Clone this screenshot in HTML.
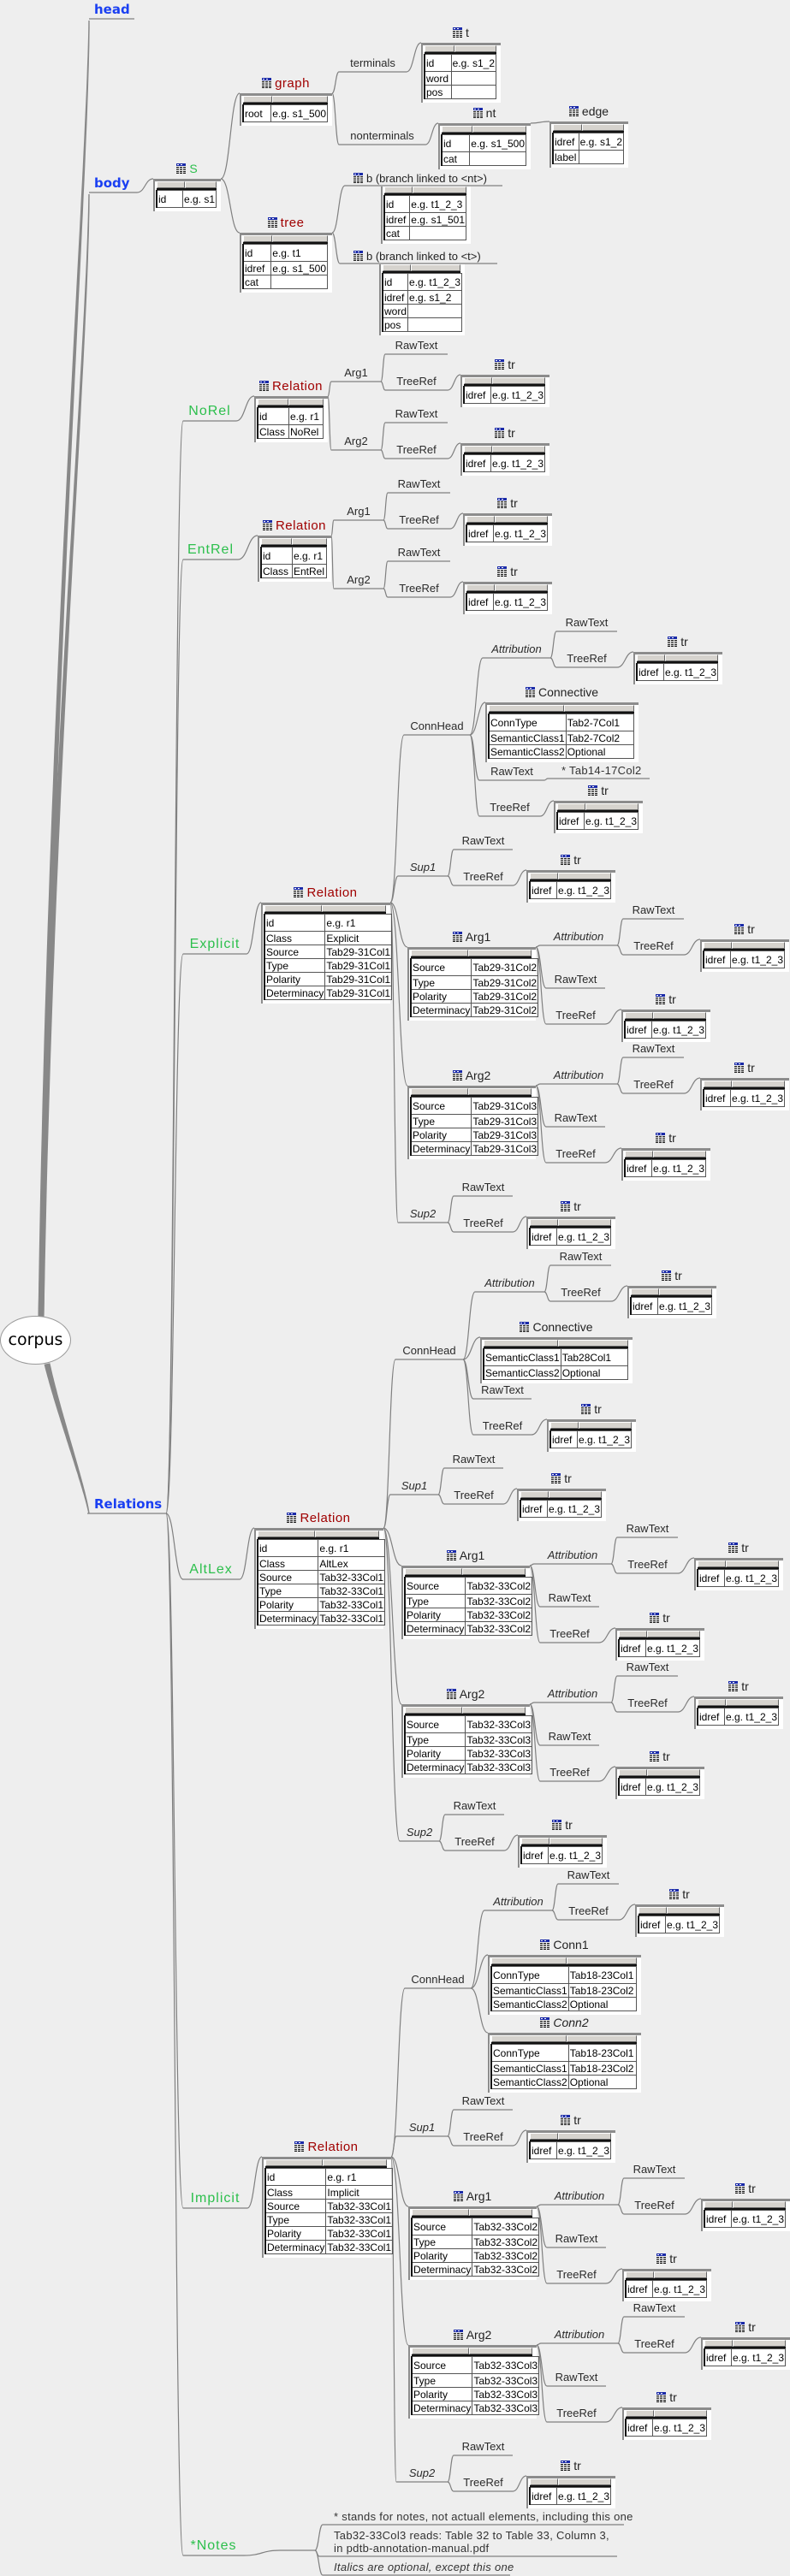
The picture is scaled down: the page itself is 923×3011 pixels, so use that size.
<!DOCTYPE html>
<html><head><meta charset="utf-8">
<style>
html,body{margin:0;padding:0}
body{width:923px;height:3011px;background:#eeeeee;position:relative;overflow:hidden;font-family:"Liberation Sans",sans-serif}
svg#s{position:absolute;left:0;top:0}
.lb{position:absolute;height:16px;line-height:16px;font-size:13px;color:#2a2a2a;text-align:center;white-space:nowrap}
.it{font-style:italic}
.gr{position:absolute;height:20px;line-height:20px;font-size:16px;color:#2cbf4c;letter-spacing:1px;text-align:center;white-space:nowrap}
.bl{position:absolute;height:19px;line-height:19px;font-size:15px;font-weight:bold;color:#1a3ff2;font-family:"DejaVu Sans",sans-serif;white-space:nowrap}
.tb{position:absolute;box-sizing:border-box;border-top:3px solid #8c8c8c;border-left:2px solid #8c8c8c;background:#fff;padding:0 5px 4px 1px}
.hd{display:flex;height:8px;border-bottom:2px solid #111;margin-left:1px}
.hd i{display:block;box-sizing:border-box;background:#d6d3ce;border:1px solid;border-color:#fff #666 #666 #fff}
.tb table{border-collapse:collapse;width:100%;border-left:2px solid #111}
.tb td{border:1px solid #555;font-size:12px;line-height:14px;padding:0 1px;white-space:nowrap;overflow:hidden;color:#000}
.tt{position:absolute;height:15px;line-height:15px;text-align:center;white-space:nowrap;font-size:14px;color:#222}
.tt svg{vertical-align:-1px;margin-right:4px}
.rd{color:#a00000;font-size:15px;letter-spacing:.5px}
.note{position:absolute;font-size:13px;color:#333;white-space:nowrap;letter-spacing:.3px}
#corpus{position:absolute;left:0;top:1538px;width:83px;height:57px;box-sizing:border-box;border:1.5px solid #999;border-radius:50%;background:#fff;display:flex;align-items:center;justify-content:center;font-family:"DejaVu Sans",sans-serif;font-size:19px;color:#000;line-height:1}
</style></head>
<body>
<svg id="s" width="923" height="3011"></svg>
<div id="corpus">corpus</div>
<script>
const S=document.getElementById('s');const B=document.body;
let sv='';
function C(x1,y1,x2,y2){const m=(x1+x2)/2;sv+=`<path d="M${x1},${y1}C${m},${y1} ${m},${y2} ${x2},${y2}" fill="none" stroke="#808080" stroke-width="1.2"/>`;}
function HL(x1,x2,y){sv+=`<line x1="${x1}" y1="${y}" x2="${x2}" y2="${y}" stroke="#808080" stroke-width="1.3"/>`;}
function add(h){B.insertAdjacentHTML('beforeend',h);}
function L(t,x1,x2,uy,cls){HL(x1,x2,uy);add(`<div class="lb ${cls||''}" style="left:${x1}px;top:${uy-18}px;width:${x2-x1}px">${t}</div>`);}
function G(t,x1,x2,uy){HL(x1,x2,uy);add(`<div class="gr" style="left:${x1}px;top:${uy-21}px;width:${x2-x1}px">${t}</div>`);}
const ICON='<svg width="11" height="12"><rect x="0" y="0" width="11" height="3" fill="#1a2aa8"/><rect x="1" y="1" width="2" height="1" fill="#fff"/><rect x="5" y="1" width="2" height="1" fill="#fff"/><g fill="#222"><rect x="0" y="4" width="3" height="1.3"/><rect x="4" y="4" width="3" height="1.3"/><rect x="8" y="4" width="3" height="1.3"/><rect x="0" y="6.5" width="3" height="1.3"/><rect x="4" y="6.5" width="3" height="1.3"/><rect x="8" y="6.5" width="3" height="1.3"/><rect x="0" y="9" width="3" height="1.3"/><rect x="4" y="9" width="3" height="1.3"/><rect x="8" y="9" width="3" height="1.3"/><rect x="0" y="11" width="3" height="1"/><rect x="4" y="11" width="3" height="1"/><rect x="8" y="11" width="3" height="1"/></g></svg>';
function T(x,top,w,c1,rows,title,tcls,noTop){
 let h=`<div class="tb" style="left:${x}px;top:${top}px;width:${w}px${noTop?';border-top:none':''}"><div class="hd"><i style="width:${c1}px"></i><i style="flex:1"></i></div><table>`;
 rows.forEach((r,i)=>{h+=`<tr style="height:${i?16:20}px"><td style="width:${c1-3}px">${r[0]}</td><td>${r[1]||''}</td></tr>`;});
 h+='</table></div>';
 if(title!==undefined&&title!==null) h+=`<div class="tt" style="left:${x}px;top:${top-19}px;width:${w}px">${ICON}<span class="${tcls||''}">${title}</span></div>`;
 add(h);}
function TR(x,top){T(x,top,104,33,[['idref','e.g. t1_2_3']],'tr');}
function attr(x1,x2,uy){L('Attribution',x1,x2,uy,'it');
 L('RawText',x2+7,x2+78,uy-31);C(x2,uy,x2+7,uy-31);
 L('TreeRef',x2+7,x2+78,uy+11);C(x2,uy,x2+7,uy+11);
 C(x2+78,uy+11,x2+97,uy-7);TR(x2+97,uy-7);}
function sup(t,x1,x2,S){L(t,x1,x2,S,'it');
 L('RawText',x2+7,x2+76,S-31);C(x2,S,x2+7,S-31);
 L('TreeRef',x2+7,x2+76,S+11);C(x2,S,x2+7,S+11);
 C(x2+76,S+11,x2+92,S-7);TR(x2+92,S-7);}
function arg(t,X,Tp,val){T(X,Tp,150,67,[['Source',val],['Type',val],['Polarity',val],['Determinacy',val]],t);
 const R=X+150;C(R,Tp,X+155,Tp-2);attr(X+155,X+245,Tp-2);
 L('RawText',X+162,X+231,Tp+48);C(R,Tp,X+162,Tp+48);
 L('TreeRef',X+162,X+231,Tp+90);C(R,Tp,X+162,Tp+90);
 C(X+231,Tp+90,X+250,Tp+73);TR(X+250,Tp+73);}
function simpleArg(t,x1,x2,A){L(t,x1,x2,A);
 L('RawText',x2+5,x2+78,A-32);C(x2,A,x2+5,A-32);
 L('TreeRef',x2+5,x2+78,A+10);C(x2,A,x2+5,A+10);
 C(x2+78,A+10,x2+93,A-8);TR(x2+93,A-8);}
function taper(p,w1,w2){const N=60,L=[],Rr=[];
 for(let i=0;i<=N;i++){const t=i/N,u=1-t;
  const x=u*u*u*p[0]+3*u*u*t*p[2]+3*u*t*t*p[4]+t*t*t*p[6],y=u*u*u*p[1]+3*u*u*t*p[3]+3*u*t*t*p[5]+t*t*t*p[7];
  const dx=3*u*u*(p[2]-p[0])+6*u*t*(p[4]-p[2])+3*t*t*(p[6]-p[4]),dy=3*u*u*(p[3]-p[1])+6*u*t*(p[5]-p[3])+3*t*t*(p[7]-p[5]);
  const l=Math.hypot(dx,dy)||1,w=(w1+(w2-w1)*t)/2,nx=-dy/l*w,ny=dx/l*w;
  L.push((x+nx).toFixed(1)+','+(y+ny).toFixed(1));Rr.unshift((x-nx).toFixed(1)+','+(y-ny).toFixed(1));}
 sv+=`<polygon points="${L.join(' ')} ${Rr.join(' ')}" fill="#888"/>`;}

taper([48,1540,58,800,103,200,104,24],7,1.4);
taper([48,1540,60,900,102,420,104,227],7,1.4);
taper([55,1594,68,1650,98,1735,104,1769],7,1.4);
HL(104,157,22);add('<div class="bl" style="left:110px;top:2px">head</div>');
HL(104,160,225);add('<div class="bl" style="left:110px;top:205px">body</div>');
HL(102,194,1769);add('<div class="bl" style="left:110px;top:1749px">Relations</div>');

C(160,225,179,209);
T(179,209,79,33,[['id','e.g. s1']],'S','');
B.lastElementChild.querySelector('span').style.color='#2cbf4c';
C(258,209,280,109);C(258,209,280,272);
T(280,109,108,34,[['root','e.g. s1_500']],'graph','rd');
T(280,272,108,34,[['id','e.g. t1'],['idref','e.g. s1_500'],['cat','']],'tree','rd');
L('terminals',396,475,84);C(388,109,396,84);
L('nonterminals',396,497,169);C(388,109,396,169);
C(475,84,492,50);T(492,50,93,35,[['id','e.g. s1_2'],['word',''],['pos','']],'t');
C(497,169,512,144);T(512,144,108,36,[['id','e.g. s1_500'],['cat','']],'nt');
C(620,144,642,142);T(642,142,92,34,[['idref','e.g. s1_2'],['label','']],'edge');
HL(403,587,217);C(388,272,403,217);
add(`<div class="tt" style="left:413px;top:201px;text-align:left;font-size:13px">${ICON}b (branch linked to &lt;nt&gt;)</div>`);
T(445,218,105,33,[['id','e.g. t1_2_3'],['idref','e.g. s1_501'],['cat','']],null,null,true);
HL(397,581,308);C(388,272,397,308);
add(`<div class="tt" style="left:413px;top:292px;text-align:left;font-size:13px">${ICON}b (branch linked to &lt;t&gt;)</div>`);
T(443,309,100,33,[['id','e.g. t1_2_3'],['idref','e.g. s1_2'],['word',''],['pos','']],null,null,true);

[[492],[654],[1115],[1846],[2581],[2987]].forEach(a=>C(194,1769,214,a[0]));
G('NoRel',214,276,492);G('EntRel',214,278,654);G('Explicit',214,288,1115);G('AltLex',213,280,1846);G('Implicit',214,289,2581);G('*Notes',214,285,2987);

C(276,492,297,463);T(297,463,86,36,[['id','e.g. r1'],['Class','NoRel']],'Relation','rd');
C(383,463,387,446);C(383,463,387,526);simpleArg('Arg1',387,445,446);simpleArg('Arg2',387,445,526);
C(278,654,301,626);T(301,626,86,36,[['id','e.g. r1'],['Class','EntRel']],'Relation','rd');
C(387,626,390,608);C(387,626,390,688);simpleArg('Arg1',390,448,608);simpleArg('Arg2',390,448,688);

const v1='Tab29-31Col1';
C(288,1115,305,1055);T(305,1055,151,67,[['id','e.g. r1'],['Class','Explicit'],['Source',v1],['Type',v1],['Polarity',v1],['Determinacy',v1]],'Relation','rd');
C(456,1055,472,859);C(456,1055,465,1024);C(456,1055,476,1107);C(456,1055,476,1269);C(456,1055,465,1429);
L('ConnHead',472,549,859);
C(549,859,564,769);attr(564,643,769);
C(549,859,567,821);T(567,821,179,88,[['ConnType','Tab2-7Col1'],['SemanticClass1','Tab2-7Col2'],['SemanticClass2','Optional']],'Connective');
C(549,859,560,912);L('RawText',560,636,912);C(636,912,640,910);HL(640,759,910);
add('<div class="note" style="left:656px;top:893px">* Tab14-17Col2</div>');
C(549,859,560,954);L('TreeRef',560,631,954);C(631,954,647,936);TR(647,936);
sup('Sup1',465,523,1024);
arg('Arg1',476,1107,'Tab29-31Col2');arg('Arg2',476,1269,'Tab29-31Col3');
sup('Sup2',465,523,1429);

const v2='Tab32-33Col1';
C(280,1846,297,1786);T(297,1786,151,67,[['id','e.g. r1'],['Class','AltLex'],['Source',v2],['Type',v2],['Polarity',v2],['Determinacy',v2]],'Relation','rd');
C(448,1786,462,1589);C(448,1786,456,1747);C(448,1786,469,1830);C(448,1786,469,1992);C(448,1786,467,2152);
L('ConnHead',462,541,1589);
C(541,1589,555,1510);attr(555,636,1510);
C(541,1589,561,1563);T(561,1563,178,87,[['SemanticClass1','Tab28Col1'],['SemanticClass2','Optional']],'Connective');
C(541,1589,553,1635);L('RawText',553,621,1635);
C(541,1589,553,1677);L('TreeRef',553,621,1677);C(621,1677,639,1659);TR(639,1659);
sup('Sup1',456,512,1747);
arg('Arg1',469,1830,'Tab32-33Col2');arg('Arg2',469,1992,'Tab32-33Col3');
sup('Sup2',467,513,2152);

C(289,2581,306,2521);T(306,2521,151,67,[['id','e.g. r1'],['Class','Implicit'],['Source',v2],['Type',v2],['Polarity',v2],['Determinacy',v2]],'Relation','rd');
C(457,2521,473,2324);C(457,2521,463,2497);C(457,2521,477,2579);C(457,2521,477,2741);C(457,2521,463,2901);
L('ConnHead',473,550,2324);
C(550,2324,566,2233);attr(566,645,2233);
C(550,2324,570,2285);T(570,2285,179,88,[['ConnType','Tab18-23Col1'],['SemanticClass1','Tab18-23Col2'],['SemanticClass2','Optional']],'Conn1');
C(550,2324,570,2376);T(570,2376,179,88,[['ConnType','Tab18-23Col1'],['SemanticClass1','Tab18-23Col2'],['SemanticClass2','Optional']],'Conn2','it');
sup('Sup1',463,523,2497);
arg('Arg1',477,2579,'Tab32-33Col2');arg('Arg2',477,2741,'Tab32-33Col3');
sup('Sup2',463,523,2901);

C(285,2987,327,2981);HL(327,368,2981);
C(368,2981,377,2951);HL(377,729,2951);
add('<div class="note" style="left:390px;top:2934px">* stands for notes, not actuall elements, including this one</div>');
C(368,2981,373,2988);HL(373,721,2988);
add('<div class="note" style="left:390px;top:2956px;line-height:15px">Tab32-33Col3 reads: Table 32 to Table 33, Column 3,<br>in pdtb-annotation-manual.pdf</div>');
C(368,2981,377,3010);HL(377,596,3010);
add('<div class="note" style="left:390px;top:2993px;font-style:italic">Italics are optional, except this one</div>');

S.innerHTML=sv;
</script>
</body></html>
